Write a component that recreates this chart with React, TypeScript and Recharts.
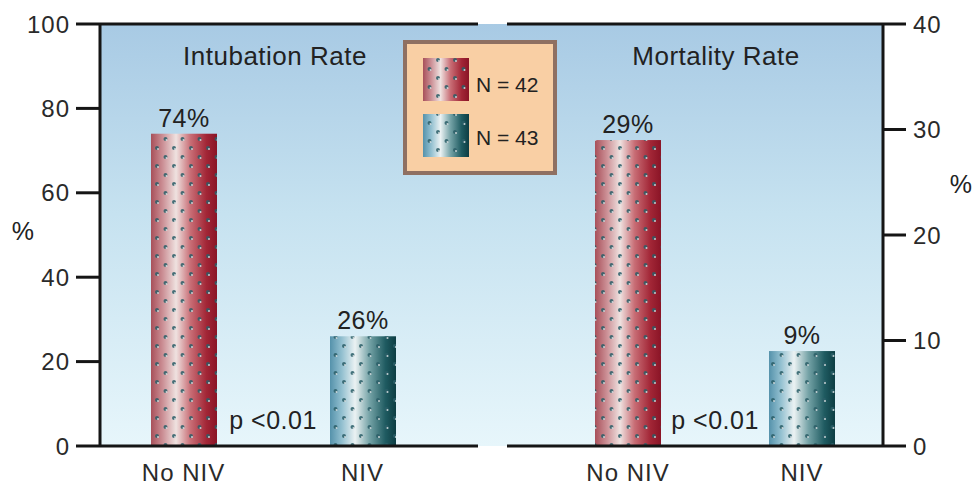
import { BarChart, Bar, XAxis, YAxis, ReferenceLine, LabelList } from 'recharts';

const GROUPS = ['No NIV', 'NIV'];
const INTUBATION = [74, 26];
const MORTALITY = [29, 9];
const LEGEND_LABELS = ['N = 42', 'N = 43'];
const LEFT_TICKS = [0, 20, 40, 60, 80, 100];
const RIGHT_TICKS = [0, 10, 20, 30, 40];
const P_TEXT = 'p <0.01';

const FONT = '"Liberation Sans", Arial, Helvetica, sans-serif';
const INK = '#151515';
const GRADS = ['url(#redGrad)', 'url(#blueGrad)'];

const intubationData = GROUPS.map((g, i) => ({ group: g, value: INTUBATION[i], idx: i }));
const mortalityData = GROUPS.map((g, i) => ({ group: g, value: MORTALITY[i], idx: i }));

// gradient + dot overlay, like the printed column texture
function TexturedBar(props: any) {
  const { x, y, width, height, payload } = props;
  if (!height || height <= 0) return null;
  return (
    <g>
      <rect x={x} y={y} width={width} height={height} fill={GRADS[payload.idx]} />
      <rect x={x} y={y} width={width} height={height} fill="url(#dots)" />
    </g>
  );
}

const tick = { fontSize: 24, fill: '#2a2a2a', fontFamily: FONT, letterSpacing: 1 };
const titleStyle = { fontSize: 26, fill: '#222', fontFamily: FONT, letterSpacing: 0.5 };
const labelStyle = { fontSize: 25, fill: '#222', fontFamily: FONT, letterSpacing: 0.5 };

function Defs() {
  return (
    <svg width={0} height={0} style={{ position: 'absolute' }}>
      <defs>
        <linearGradient id="redGrad" x1="0" y1="0" x2="1" y2="0">
          <stop offset="0%" stopColor="#a8505a" />
          <stop offset="18%" stopColor="#cc9096" />
          <stop offset="38%" stopColor="#efe2e0" />
          <stop offset="60%" stopColor="#c86d75" />
          <stop offset="84%" stopColor="#a22636" />
          <stop offset="100%" stopColor="#8a1426" />
        </linearGradient>
        <linearGradient id="blueGrad" x1="0" y1="0" x2="1" y2="0">
          <stop offset="0%" stopColor="#5592ab" />
          <stop offset="18%" stopColor="#93c0d0" />
          <stop offset="38%" stopColor="#ebf2f3" />
          <stop offset="60%" stopColor="#74a2a6" />
          <stop offset="84%" stopColor="#1f5b61" />
          <stop offset="100%" stopColor="#0d3d43" />
        </linearGradient>
        <pattern id="dots" patternUnits="userSpaceOnUse" width={17} height={18}>
          <circle cx={4} cy={4} r={2} fill="#2a5e68" opacity={0.85} />
          <circle cx={12.5} cy={13} r={2} fill="#2a5e68" opacity={0.85} />
          <circle cx={5} cy={5} r={1} fill="#f4f4f4" opacity={0.75} />
          <circle cx={13.5} cy={14} r={1} fill="#f4f4f4" opacity={0.75} />
        </pattern>
      </defs>
    </svg>
  );
}

function LegendBox() {
  return (
    <svg width={162} height={140} style={{ position: 'absolute', left: 400, top: 38 }}>
      <rect x={5} y={4} width={150} height={131} fill="#f9cfa4" stroke="#8f7062" strokeWidth={4} />
      {LEGEND_LABELS.map((label, i) => (
        <g key={label}>
          <rect x={23} y={20 + i * 56} width={46} height={43} fill={GRADS[i]} />
          <rect x={23} y={20 + i * 56} width={46} height={43} fill="url(#dots)" />
          <text x={76} y={54 + i * 53} fontSize={21} fill="#222" fontFamily={FONT}>{label}</text>
        </g>
      ))}
    </svg>
  );
}

export default function App() {
  return (
    <div style={{ position: 'absolute', left: 0, top: 0, width: 975, height: 485, background: '#fff', overflow: 'hidden' }}>
      <Defs />
      <div
        style={{
          position: 'absolute', left: 100, top: 24, width: 783, height: 422,
          background: 'linear-gradient(to bottom, #a8cae4 0%, #c6e2f0 45%, #e7f6fb 100%)',
        }}
      />

      {/* left panel: intubation */}
      <div style={{ position: 'absolute', left: 0, top: 0 }}>
        <BarChart width={500} height={485} data={intubationData} margin={{ top: 24, right: 22, bottom: 0, left: 0 }}>
          <XAxis dataKey="group" height={39} padding={{ left: -6, right: 26 }} axisLine={{ stroke: INK, strokeWidth: 3 }}
            tickLine={false} tickMargin={12} tick={tick} interval={0} />
          <YAxis width={100} domain={[0, 100]} ticks={LEFT_TICKS} tickSize={24} tickMargin={6}
            axisLine={{ stroke: INK, strokeWidth: 3 }} tickLine={{ stroke: INK, strokeWidth: 3 }} tick={tick} />
          <ReferenceLine y={100} stroke={INK} strokeWidth={3} />
          <Bar dataKey="value" barSize={66} shape={TexturedBar} isAnimationActive={false}>
            <LabelList dataKey="value" position="top" offset={7} formatter={(v: any) => `${v}%`} style={labelStyle} />
          </Bar>
          <text x={275} y={65} textAnchor="middle" style={titleStyle}>Intubation Rate</text>
          <text x={273} y={429} textAnchor="middle" style={labelStyle}>{P_TEXT}</text>
          <text x={23} y={240} textAnchor="middle" style={labelStyle}>%</text>
        </BarChart>
      </div>

      {/* right panel: mortality */}
      <div style={{ position: 'absolute', left: 480, top: 0 }}>
        <BarChart width={495} height={485} data={mortalityData} margin={{ top: 24, right: 0, bottom: 0, left: 27 }}>
          <XAxis dataKey="group" height={39} padding={{ left: 34, right: -6 }} axisLine={{ stroke: INK, strokeWidth: 3 }}
            tickLine={false} tickMargin={12} tick={tick} interval={0} />
          <YAxis orientation="right" width={92} domain={[0, 40]} ticks={RIGHT_TICKS} tickSize={23} tickMargin={7}
            axisLine={{ stroke: INK, strokeWidth: 3 }} tickLine={{ stroke: INK, strokeWidth: 3 }} tick={tick} />
          <ReferenceLine y={40} stroke={INK} strokeWidth={3} />
          <Bar dataKey="value" barSize={66} shape={TexturedBar} isAnimationActive={false}>
            <LabelList dataKey="value" position="top" offset={7} formatter={(v: any) => `${v}%`} style={labelStyle} />
          </Bar>
          <text x={236} y={65} textAnchor="middle" style={titleStyle}>Mortality Rate</text>
          <text x={235} y={429} textAnchor="middle" style={labelStyle}>{P_TEXT}</text>
          <text x={481} y={193} textAnchor="middle" style={labelStyle}>%</text>
        </BarChart>
      </div>

      <LegendBox />
    </div>
  );
}
